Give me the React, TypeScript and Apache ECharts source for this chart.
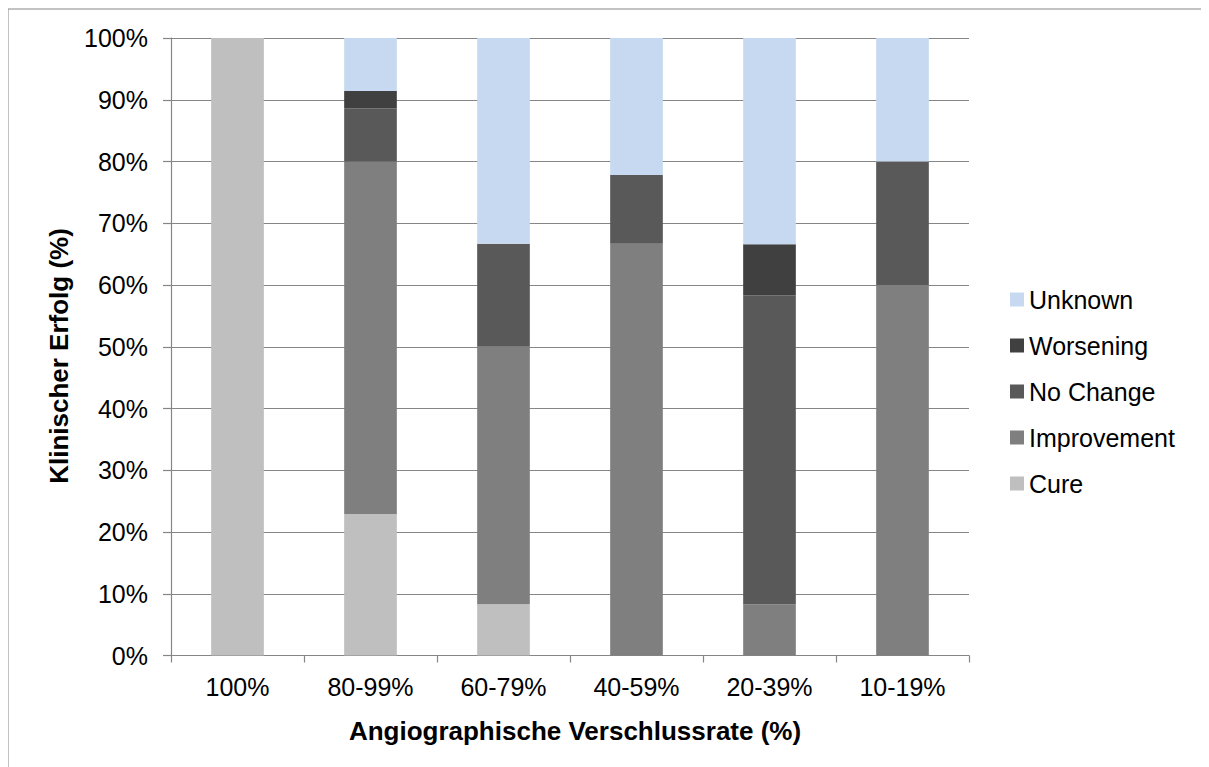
import React, { useEffect, useRef } from "react";
import * as echarts from "echarts";

// Occlusion-rate groups on the x axis
const categories = ["100%", "80-99%", "60-79%", "40-59%", "20-39%", "10-19%"];

// Clinical outcome shares (%) per group, stacked bottom to top
const cure = [100, 22.9, 8.3, 0, 0, 0];
const improvement = [0, 57.1, 41.7, 66.7, 8.3, 60];
const noChange = [0, 8.6, 16.7, 11.1, 50, 20];
const worsening = [0, 2.8, 0, 0, 8.3, 0];
const unknown = [0, 8.6, 33.3, 22.2, 33.4, 20];

const legendOrder = ["Unknown", "Worsening", "No Change", "Improvement", "Cure"];

const FONT = '"Liberation Sans", Arial, sans-serif';
const AXIS_GRAY = "#868686";

export default function App() {
  const ref = useRef<HTMLDivElement>(null);

  useEffect(() => {
    if (!ref.current) return;
    const chart = echarts.init(ref.current, null, { renderer: "svg" });

    const bar = (name: string, data: number[], color: string) => ({
      name,
      type: "bar",
      stack: "total",
      data,
      barWidth: "39.6%",
      itemStyle: { color },
      emphasis: { disabled: true },
    });

    chart.setOption({
      animation: false,
      backgroundColor: "#ffffff",
      textStyle: { fontFamily: FONT },
      grid: { left: 163, top: 30, width: 798, height: 617.5, containLabel: false },
      legend: {
        orient: "vertical",
        left: 997,
        top: 274,
        itemWidth: 14,
        itemHeight: 14,
        itemGap: 21,
        icon: "rect",
        data: legendOrder,
        textStyle: { fontFamily: FONT, fontSize: 25, color: "#000" },
        selectedMode: false,
      },
      xAxis: {
        type: "category",
        data: categories,
        axisLine: { lineStyle: { color: AXIS_GRAY, width: 1.2 } },
        axisTick: { show: true, length: 7, lineStyle: { color: AXIS_GRAY, width: 1.2 } },
        axisLabel: { fontFamily: FONT, fontSize: 25, color: "#000", margin: 19 },
      },
      yAxis: {
        type: "value",
        min: 0,
        max: 100,
        interval: 10,
        axisLine: { show: true, lineStyle: { color: AXIS_GRAY, width: 1.2 } },
        axisTick: { show: true, length: 8, lineStyle: { color: AXIS_GRAY, width: 1.2 } },
        axisLabel: {
          fontFamily: FONT,
          fontSize: 25,
          color: "#000",
          margin: 23,
          formatter: "{value}%",
        },
        splitLine: { lineStyle: { color: AXIS_GRAY, width: 1.2 } },
      },
      graphic: [
        {
          type: "rect",
          silent: true,
          shape: { x: 0, y: 1, width: 1400, height: 1000 },
          style: { fill: "none", stroke: AXIS_GRAY, lineWidth: 1 },
          z: -1,
        },
        {
          type: "text",
          silent: true,
          x: 51,
          y: 348,
          rotation: Math.PI / 2,
          style: {
            text: "Klinischer Erfolg (%)",
            fontFamily: FONT,
            fontSize: 26,
            fontWeight: "bold",
            fill: "#000",
            align: "center",
            verticalAlign: "middle",
          },
        },
        {
          type: "text",
          silent: true,
          x: 567,
          y: 723,
          style: {
            text: "Angiographische Verschlussrate (%)",
            fontFamily: FONT,
            fontSize: 26,
            fontWeight: "bold",
            fill: "#000",
            align: "center",
            verticalAlign: "middle",
          },
        },
      ],
      series: [
        bar("Cure", cure, "#BFBFBF"),
        bar("Improvement", improvement, "#7F7F7F"),
        bar("No Change", noChange, "#595959"),
        bar("Worsening", worsening, "#404040"),
        bar("Unknown", unknown, "#C6D9F0"),
      ],
    });

    return () => chart.dispose();
  }, []);

  return <div ref={ref} style={{ width: 1201, height: 759 }} />;
}
